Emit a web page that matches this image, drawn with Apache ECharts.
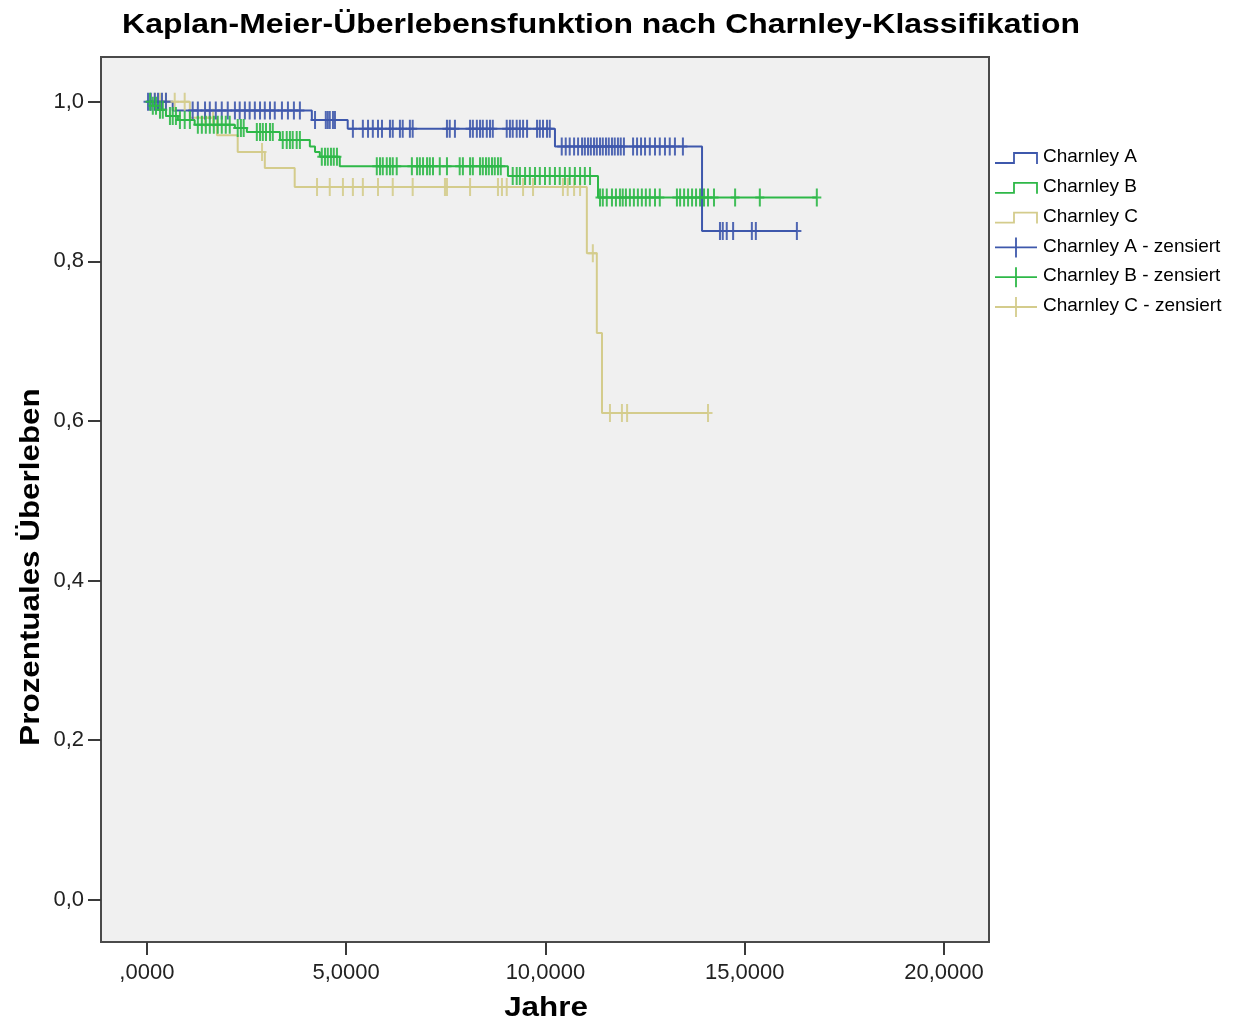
<!DOCTYPE html>
<html>
<head>
<meta charset="utf-8">
<script src="https://cdn.jsdelivr.net/npm/echarts@6/dist/echarts.min.js"></script>
<style>
html,body{margin:0;padding:0;background:#fff;}
#c{width:1244px;height:1024px;}
</style>
</head>
<body>
<div id="c"></div>
<script>
// ---------- DATA ----------
const titleText = 'Kaplan-Meier-Überlebensfunktion nach Charnley-Klassifikation';
const xName = 'Jahre';
const yName = 'Prozentuales Überleben';
const xTickValues = [0, 5, 10, 15, 20];
const xTickLabels = [',0000', '5,0000', '10,0000', '15,0000', '20,0000'];
const yTickValues = [0, 0.2, 0.4, 0.6, 0.8, 1.0];
const yTickLabels = ['0,0', '0,2', '0,4', '0,6', '0,8', '1,0'];
const seriesNames = ['Charnley A', 'Charnley B', 'Charnley C'];
const censorNames = ['Charnley A - zensiert', 'Charnley B - zensiert', 'Charnley C - zensiert'];

// Charnley A: step times (years) and survival from that time on
const aTimes = [0, 0.65, 4.14, 5.04, 10.24, 13.93, 16.31];
const aSurv  = [1.0, 0.989, 0.977, 0.966, 0.944, 0.838, 0.838];
const aCensor = [0.03,0.10,0.20,0.28,0.38,0.48,
  1.15,1.28,1.46,1.58,1.73,1.88,2.03,2.21,2.33,2.46,2.58,2.71,2.84,2.96,3.09,3.21,3.39,3.54,3.69,3.84,
  4.22,4.49,4.54,4.59,4.67,4.72,
  5.17,5.42,5.55,5.67,5.80,5.90,6.10,6.17,6.35,6.42,6.60,6.67,
  7.53,7.60,7.73,8.11,8.18,8.28,8.36,8.43,8.53,8.61,8.68,
  9.03,9.11,9.18,9.28,9.36,9.44,9.54,9.79,9.86,9.94,10.04,10.11,
  10.41,10.51,10.61,10.72,10.82,10.92,10.99,11.07,11.14,11.22,11.29,11.37,11.44,11.52,11.59,11.67,11.74,11.82,11.89,11.97,
  12.20,12.30,12.40,12.50,12.62,12.75,12.87,13.00,13.12,13.25,13.45,
  14.38,14.45,14.55,14.71,15.18,15.28,16.31];

// Charnley B
const bTimes = [0, 0.15, 0.28, 0.48, 0.78, 1.20, 2.21, 2.51, 3.34, 4.09, 4.22, 4.34, 4.84, 9.06, 11.32, 16.81];
const bSurv  = [1.0, 0.995, 0.990, 0.982, 0.977, 0.971, 0.967, 0.962, 0.952, 0.944, 0.937, 0.931, 0.919, 0.907, 0.880, 0.880];
const bCensor = [0.08,0.15,0.23,0.33,0.40,0.58,0.65,0.73,0.83,0.95,1.08,
  1.28,1.38,1.48,1.58,1.68,1.78,1.88,1.98,2.08,2.28,2.36,2.43,
  2.76,2.84,2.91,2.99,3.09,3.16,3.41,3.51,3.59,3.66,3.76,3.84,
  4.39,4.47,4.54,4.62,4.69,4.77,
  5.77,5.85,5.92,6.02,6.10,6.17,6.27,6.65,6.78,6.85,6.93,7.03,7.10,7.18,7.35,7.53,7.85,7.93,8.11,8.18,
  8.36,8.43,8.51,8.58,8.66,8.73,8.81,8.88,
  9.18,9.28,9.36,9.49,9.61,9.74,9.86,9.99,10.11,10.24,10.36,10.49,10.61,10.74,10.87,10.99,11.12,
  11.37,11.44,11.54,11.67,11.77,11.87,11.94,12.02,12.12,12.22,12.32,12.42,12.52,12.62,12.75,12.87,
  13.30,13.38,13.48,13.58,13.68,13.78,13.88,13.98,14.08,14.23,14.76,15.38,16.81];

// Charnley C
const cTimes = [0, 1.08, 1.76, 2.28, 2.96, 3.71, 11.04, 11.29, 11.42, 14.08];
const cSurv  = [1.0, 0.980, 0.958, 0.937, 0.917, 0.893, 0.810, 0.710, 0.610, 0.610];
const cCensor = [0.20,0.33,0.48,0.70,0.95,1.46,1.66,2.89,
  4.27,4.59,4.92,5.17,5.42,5.80,6.17,6.67,7.48,7.53,8.11,8.81,8.91,9.03,9.44,9.69,10.44,10.56,10.72,10.87,
  11.19,11.62,11.92,12.05,14.08];

// ---------- BUILD ----------
const colors = ['#3e58ac', '#2eb848', '#d4cc8c'];
const fontFam = '"Liberation Sans", Arial, Helvetica, sans-serif';

function pairs(t, s) { return t.map((v, i) => [v, s[i]]); }
function survAt(t, s, x) {
  let v = s[0];
  for (let i = 0; i < t.length; i++) { if (t[i] <= x + 1e-9) v = s[i]; }
  return v;
}
function censorPts(t, s, c) { return c.map(x => [x, survAt(t, s, x)]); }

const plusPath = 'path://M-4.5,-1L4.5,-1L4.5,1L-4.5,1Z M-1,-9L1,-9L1,9L-1,9Z';

const lineSets = [[aTimes, aSurv, aCensor], [bTimes, bSurv, bCensor], [cTimes, cSurv, cCensor]];
const series = [];
[2, 0, 1].forEach(k => {
  const [t, s, c] = lineSets[k];
  series.push({
    name: seriesNames[k], type: 'line', step: 'end', data: pairs(t, s),
    symbol: 'none', lineStyle: { color: colors[k], width: 2 }, itemStyle: { color: colors[k] },
    silent: true, animation: false, z: 3
  });
  series.push({
    name: censorNames[k], type: 'scatter', data: censorPts(t, s, c),
    symbol: plusPath, symbolSize: [9, 18],
    itemStyle: { color: colors[k], opacity: 0.9 }, silent: true, animation: false, z: 4
  });
});

// Legend drawn with graphic elements
const legendX0 = 995, legendTextX = 1043, legendY0 = 157, legendStep = 29.8;
const legendGraphics = [];
seriesNames.concat(censorNames).forEach((name, i) => {
  const y = legendY0 + i * legendStep;
  const col = colors[i % 3];
  if (i < 3) {
    legendGraphics.push({
      type: 'polyline', silent: true,
      shape: { points: [[legendX0, y + 6], [1014, y + 6], [1014, y - 4], [1037, y - 4], [1037, y + 7]] },
      style: { stroke: col, lineWidth: 1.8, fill: null }
    });
  } else {
    legendGraphics.push({
      type: 'line', silent: true,
      shape: { x1: legendX0, y1: y + 1, x2: 1037, y2: y + 1 },
      style: { stroke: col, lineWidth: 1.8 }
    });
    legendGraphics.push({
      type: 'line', silent: true,
      shape: { x1: 1016, y1: y - 9, x2: 1016, y2: y + 11 },
      style: { stroke: col, lineWidth: 1.8 }
    });
  }
  legendGraphics.push({
    type: 'text', x: legendTextX, y: y, silent: true,
    style: { text: name, fill: '#000', font: '19px ' + fontFam, textAlign: 'left', textVerticalAlign: 'middle' }
  });
});

const chart = echarts.init(document.getElementById('c'), null, { renderer: 'canvas' });
chart.setOption({
  animation: false,
  backgroundColor: '#ffffff',
  grid: {
    left: 101, right: 255, top: 57, bottom: 82, show: true,
    backgroundColor: '#f0f0f0', borderColor: '#4a4a4a', borderWidth: 2
  },
  xAxis: {
    type: 'value', min: -1.15, max: 21.13, position: 'bottom',
    axisLine: { show: false, onZero: false }, splitLine: { show: false },
    axisTick: { show: true, customValues: xTickValues, length: 13, lineStyle: { color: '#3a3a3a', width: 2 } },
    axisLabel: {
      customValues: xTickValues, margin: 20, color: '#222', fontSize: 22, fontFamily: fontFam,
      formatter: v => { const i = xTickValues.indexOf(v); return i >= 0 ? xTickLabels[i] : ''; }
    }
  },
  yAxis: {
    type: 'value', min: -0.053, max: 1.056, position: 'left',
    axisLine: { show: false, onZero: false }, splitLine: { show: false },
    axisTick: { show: true, customValues: yTickValues, length: 13, lineStyle: { color: '#3a3a3a', width: 2 } },
    axisLabel: {
      customValues: yTickValues, margin: 17, color: '#222', fontSize: 22, fontFamily: fontFam,
      formatter: v => { let i = yTickValues.findIndex(u => Math.abs(u - v) < 1e-6); return i >= 0 ? yTickLabels[i] : ''; }
    }
  },
  series: series,
  graphic: [
    {
      type: 'text', x: 601, y: 25, scaleX: 1.14, silent: true,
      style: { text: titleText, fill: '#000', font: 'bold 28px ' + fontFam, textAlign: 'center', textVerticalAlign: 'middle' }
    },
    {
      type: 'text', x: 546, y: 1008, scaleX: 1.12, silent: true,
      style: { text: xName, fill: '#000', font: 'bold 28px ' + fontFam, textAlign: 'center', textVerticalAlign: 'middle' }
    },
    {
      type: 'text', x: 31, y: 567, rotation: Math.PI / 2, scaleX: 1.12, silent: true,
      style: { text: yName, fill: '#000', font: 'bold 28px ' + fontFam, textAlign: 'center', textVerticalAlign: 'middle' }
    }
  ].concat(legendGraphics)
});
</script>
</body>
</html>
